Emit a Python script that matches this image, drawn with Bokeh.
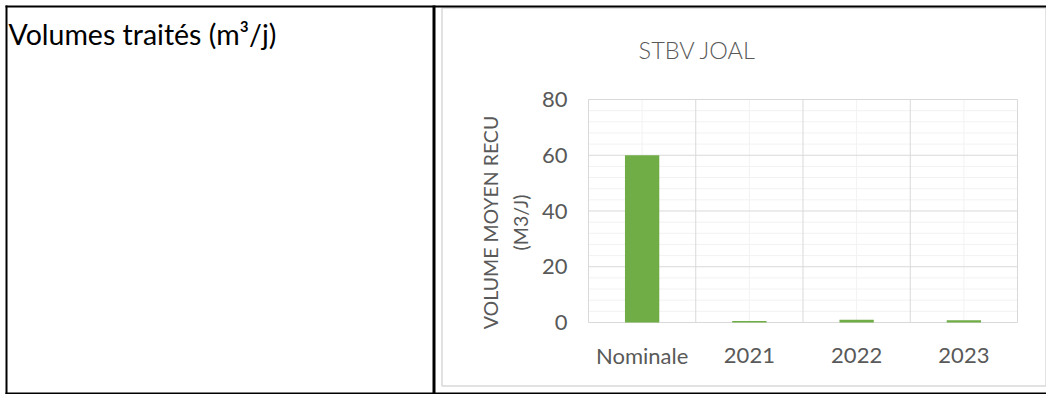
import math
from bokeh.plotting import figure
from bokeh.models import Range1d, Label, BoxAnnotation, ColumnDataSource
from bokeh.core.properties import value
from bokeh.embed import file_html
from bokeh.resources import INLINE

# ---- data ----
categories = ["Nominale", "2021", "2022", "2023"]
volumes = [60, 0.5, 1.0, 0.8]
y_ticks = [0, 20, 40, 60, 80]
minor_per_major = 5
chart_title = "STBV JOAL"
y_label = "VOLUME MOYEN RECU\n(M3/J)"
row_label = "Volumes traités (m³/j)"

# ---- layout constants (canvas pixels, origin top-left) ----
W, H = 1046, 394
FL, FR, FT, FB = 588, 1017, 99, 322   # plot-area edges
FONT = "Lato"
GREY_TXT = "#595959"
GRID_MAJ = "#D9D9D9"
GRID_MIN = "#F2F2F2"
BAR = "#70AD47"

n = len(categories)
ymin, ymax = y_ticks[0], y_ticks[-1]
cw = (FR - FL) / n                     # pixels per category
ky = (FB - FT) / (ymax - ymin)         # pixels per unit

p = figure(width=W, height=H,
           x_range=Range1d(-FL / cw, (W - FL) / cw),
           y_range=Range1d(ymin - (H - FB) / ky, ymax + FT / ky),
           output_backend="svg", toolbar_location=None, title=None,
           x_axis_location=None, y_axis_location=None,
           min_border=0)
p.outline_line_color = None
p.background_fill_color = "white"
p.border_fill_color = "white"
p.xgrid.visible = False
p.ygrid.visible = False

x_pos = [i + 0.5 for i in range(n)]
bounds_x = list(range(n + 1))
step = (y_ticks[1] - y_ticks[0]) / minor_per_major
minor_y = [ymin + j * step for j in range(int(round((ymax - ymin) / step)) + 1)]
minor_y = [v for v in minor_y if all(abs(v - t) > 1e-9 for t in y_ticks)]

# minor grid (horizontal + vertical at category centres)
p.segment(x0=0, x1=n, y0=minor_y, y1=minor_y, line_color=GRID_MIN, line_width=1)
p.segment(x0=x_pos, x1=x_pos, y0=ymin, y1=ymax, line_color=GRID_MIN, line_width=1)
# major grid (horizontal at ticks + vertical at category boundaries)
p.segment(x0=0, x1=n, y0=y_ticks, y1=y_ticks, line_color=GRID_MAJ, line_width=1)
p.segment(x0=bounds_x, x1=bounds_x, y0=ymin, y1=ymax, line_color=GRID_MAJ, line_width=1)

# bars
src = ColumnDataSource(dict(x=x_pos, vol=volumes, cat=categories))
p.vbar(x="x", top="vol", bottom=0, width=0.32, source=src,
       fill_color=BAR, line_color=None)

# y tick labels
p.text(x=[0] * len(y_ticks), y=y_ticks, text=[str(t) for t in y_ticks],
       x_offset=-21, text_align="right", text_baseline="middle",
       text_font=value(FONT), text_font_size=value("22px"),
       text_color=value(GREY_TXT))

# x tick labels
p.text(x="x", y=ymin, text="cat", source=src, y_offset=33,
       text_align="center", text_baseline="middle",
       text_font=value(FONT), text_font_size=value("22px"),
       text_color=value(GREY_TXT))

# y axis label (two rotated lines)
for line, xc in zip(y_label.split("\n"), (490, 520)):
    p.add_layout(Label(x=xc, y=H - 222, x_units="screen", y_units="screen",
                       text=line, angle=math.pi / 2, text_align="center",
                       text_baseline="middle", text_font=FONT,
                       text_font_size="19.5px", text_color=GREY_TXT))

# chart title
p.add_layout(Label(x=697, y=H - 49, x_units="screen", y_units="screen",
                   text=chart_title, text_align="center", text_baseline="middle",
                   text_font="Lato Light, Lato", text_font_size="23.5px",
                   text_color=GREY_TXT))

# left cell text
p.add_layout(Label(x=8, y=H - 33, x_units="screen", y_units="screen",
                   text=row_label, text_align="left", text_baseline="alphabetic",
                   text_font=FONT, text_font_size="28.5px", text_color="black"))


def box(x0, x1, y0, y1, **kw):
    p.add_layout(BoxAnnotation(left=x0, right=x1, top=H - y0, bottom=H - y1,
                               left_units="screen", right_units="screen",
                               top_units="screen", bottom_units="screen", **kw))

# chart area border
box(441.5, 1045.5, 7.5, 385.5, fill_alpha=0, line_color=GRID_MAJ,
    line_alpha=1, line_width=1.5, level="underlay")

# table borders (black)
for x0, x1, y0, y1 in [(5, W + 5, 5, 7), (5, W + 5, 392, 394),
                       (5, 7, 5, 394), (432, 435, 5, 394)]:
    box(x0, x1, y0, y1, fill_color="black", fill_alpha=1, line_color=None)

open("out.html", "w").write(file_html(p, INLINE))
